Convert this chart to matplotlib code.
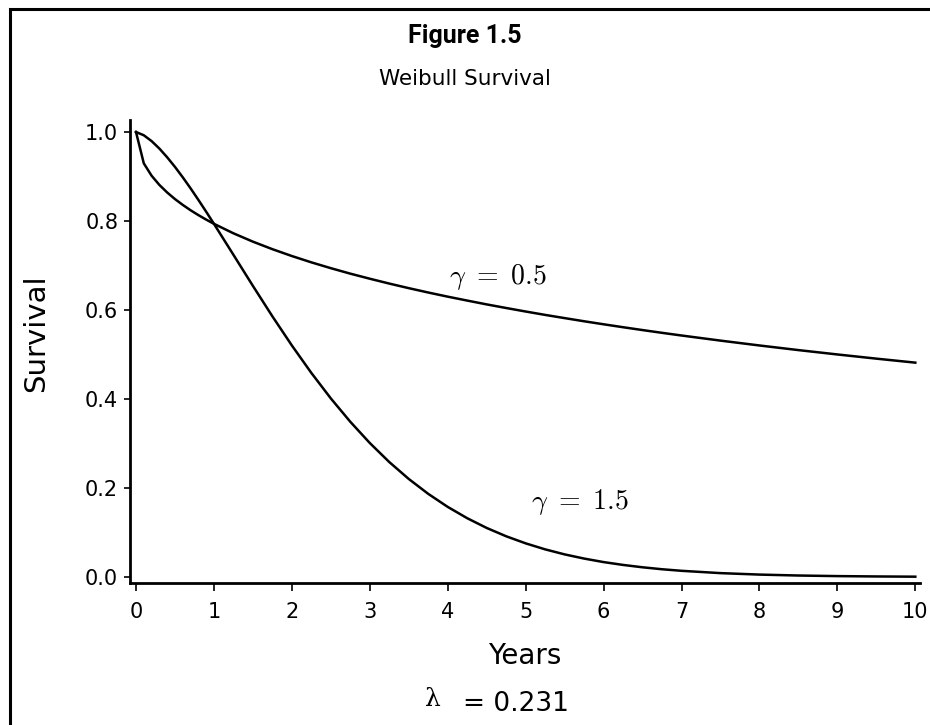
import matplotlib
matplotlib.use("Agg")
import matplotlib.pyplot as plt
from matplotlib.patches import Rectangle

# ---- data ----
years = [0, 0.1, 0.2, 0.3, 0.4, 0.5, 0.6, 0.7, 0.8, 0.9, 1.0,
         1.25, 1.5, 1.75, 2.0, 2.25, 2.5, 2.75, 3.0, 3.25, 3.5, 3.75, 4.0, 4.25, 4.5, 4.75,
         5.0, 5.25, 5.5, 5.75, 6.0, 6.25, 6.5, 6.75, 7.0, 7.5, 8.0, 8.5, 9.0, 9.5, 10.0]
surv_g05 = [1.000, 0.9296, 0.9018, 0.8811, 0.8641, 0.8493, 0.8362, 0.8242, 0.8133, 0.8032, 0.7937,
            0.7724, 0.7536, 0.7367, 0.7213, 0.7071, 0.6940, 0.6817, 0.6703, 0.6594, 0.6491, 0.6393,
            0.6300, 0.6212, 0.6126, 0.6045, 0.5966, 0.5890, 0.5818, 0.5747, 0.5679, 0.5613, 0.5549,
            0.5487, 0.5427, 0.5312, 0.5203, 0.5099, 0.5001, 0.4907, 0.4817]
surv_g15 = [1.000, 0.9927, 0.9796, 0.9628, 0.9432, 0.9216, 0.8982, 0.8735, 0.8476, 0.8210, 0.7937,
            0.7241, 0.6542, 0.5858, 0.5203, 0.4586, 0.4013, 0.3488, 0.3011, 0.2583, 0.2203, 0.1868,
            0.1575, 0.1321, 0.1102, 0.0915, 0.0756, 0.0621, 0.0508, 0.0414, 0.0335, 0.0271, 0.0218,
            0.0174, 0.0139, 0.0087, 0.0054, 0.0033, 0.0020, 0.0012, 0.0007]
xticks = [0, 1, 2, 3, 4, 5, 6, 7, 8, 9, 10]
yticks = [0.0, 0.2, 0.4, 0.6, 0.8, 1.0]
ytick_labels = ["0.0", "0.2", "0.4", "0.6", "0.8", "1.0"]
label_g05 = r"$\gamma\ =\ 0.5$"
label_g15 = r"$\gamma\ =\ 1.5$"
title1 = "Figure 1.5"
title2 = "Weibull Survival"
xlab = "Years"
ylab = "Survival"
lam_value = "= 0.231"

plt.rcParams['mathtext.fontset'] = 'cm'
plt.rcParams['font.family'] = ['DejaVu Sans']

W, H = 930, 725
fig = plt.figure(figsize=(W / 100, H / 100), dpi=100)
fig.patch.set_facecolor('white')

# outer frame (right/bottom edges lie outside the canvas)
fig.patches.append(Rectangle((10 / W, -0.05), 1.1, 1 - 9 / H + 0.05,
                             transform=fig.transFigure, fill=False,
                             edgecolor='black', linewidth=2.2))

ax = fig.add_axes([130 / W, 1 - 583 / H, (920 - 130) / W, (583 - 120) / H])
ax.plot(years, surv_g05, color='black', lw=1.8)
ax.plot(years, surv_g15, color='black', lw=1.8)
ax.set_xlim(-0.077, 10.06)
ax.set_ylim(-0.0135, 1.027)
for s in ['top', 'right']:
    ax.spines[s].set_visible(False)
for s in ['left', 'bottom']:
    ax.spines[s].set_linewidth(2.0)
ax.set_xticks(xticks)
ax.set_xticklabels([str(v) for v in xticks])
ax.set_yticks(yticks)
ax.set_yticklabels(ytick_labels)
ax.tick_params(axis='x', direction='out', length=5.5, width=1.2, pad=8, labelsize=15)
ax.tick_params(axis='y', direction='out', length=4.5, width=1.2, pad=4, labelsize=15)

ax.text(4.65, 0.674, label_g05, fontsize=20, ha='center', va='center')
ax.text(5.70, 0.169, label_g15, fontsize=20, ha='center', va='center')

fig.text(0.5, 1 - 36 / H, title1, ha='center', va='center', fontsize=18,
         family=['Roboto', 'DejaVu Sans'], fontweight='bold')
fig.text(0.5, 1 - 79 / H, title2, ha='center', va='center', fontsize=15.5)
fig.text(525 / W, 1 - 656 / H, xlab, ha='center', va='center', fontsize=20)
fig.text(36 / W, 1 - 333 / H, ylab, ha='center', va='center', fontsize=21, rotation=90)
fig.text(433 / W, 1 - 699 / H, "λ", ha='center', va='center', fontsize=18,
         family=['DejaVu Serif'])
fig.text(463 / W, 1 - 704 / H, lam_value, ha='left', va='center', fontsize=19)

fig.savefig("out.png", dpi=100, facecolor='white')
